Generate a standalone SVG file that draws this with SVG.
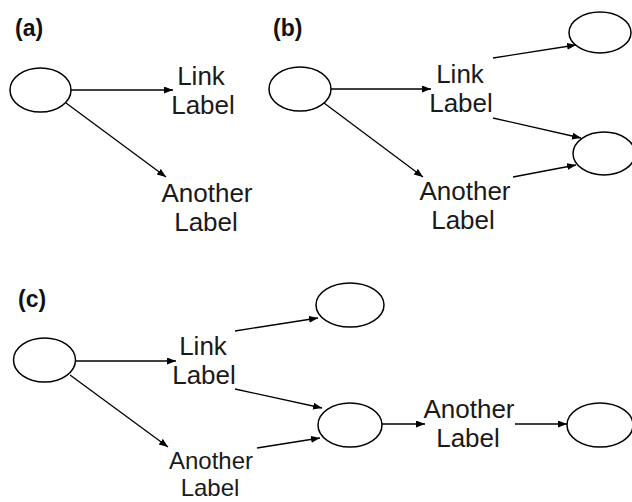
<svg xmlns="http://www.w3.org/2000/svg" width="632" height="502" viewBox="0 0 632 502">
  <defs>
    <marker id="arrow" markerUnits="userSpaceOnUse" markerWidth="10" markerHeight="8" refX="9" refY="3.5" orient="auto">
      <path d="M0,0 L9,3.5 L0,7 Z" fill="#000"/>
    </marker>
  </defs>
  <style>
    .node { fill: #fff; stroke: #000; stroke-width: 1.5; }
    .edge { fill: none; stroke: #000; stroke-width: 1.3; marker-end: url(#arrow); }
    .lbl { font-family: "Liberation Sans", Arial, sans-serif; font-size: 26px; fill: #1a1a1a; text-anchor: middle; }
    .lbl.low { font-size: 24px; }
    .tag { font-family: "Liberation Sans", Arial, sans-serif; font-size: 23px; font-weight: bold; fill: #111; }
  </style>
  <rect width="632" height="502" fill="#fff"/>

  <!-- panel tags -->
  <text class="tag" x="15" y="36">(a)</text>
  <text class="tag" x="273" y="36">(b)</text>
  <text class="tag" x="18" y="307">(c)</text>

  <!-- connectors -->
  <g id="connectors">
    <!-- (a) -->
    <line class="edge" x1="71" y1="90" x2="173" y2="90"/>
    <line class="edge" x1="66" y1="103" x2="166" y2="177"/>
    <!-- (b) -->
    <line class="edge" x1="331" y1="89" x2="431" y2="89"/>
    <line class="edge" x1="324" y1="103" x2="423" y2="177"/>
    <line class="edge" x1="493" y1="58" x2="576" y2="45"/>
    <line class="edge" x1="493" y1="118" x2="581" y2="138"/>
    <line class="edge" x1="513" y1="177" x2="576" y2="165"/>
    <!-- (c) -->
    <line class="edge" x1="76" y1="361" x2="176" y2="361"/>
    <line class="edge" x1="70" y1="375" x2="168" y2="447"/>
    <line class="edge" x1="235" y1="331" x2="318" y2="318"/>
    <line class="edge" x1="235" y1="389" x2="322" y2="408"/>
    <line class="edge" x1="257" y1="448" x2="320" y2="438"/>
    <line class="edge" x1="382" y1="424" x2="425" y2="424"/>
    <line class="edge" x1="515" y1="424" x2="567" y2="424"/>
  </g>

  <!-- link labels -->
  <g id="labels">
    <text class="lbl" x="201" y="85">Link</text>
    <text class="lbl" x="203" y="114">Label</text>
    <text class="lbl" x="207" y="202">Another</text>
    <text class="lbl" x="206" y="231">Label</text>

    <text class="lbl" x="460" y="83">Link</text>
    <text class="lbl" x="461" y="112">Label</text>
    <text class="lbl" x="465" y="200">Another</text>
    <text class="lbl" x="463" y="229">Label</text>

    <text class="lbl" x="203" y="355">Link</text>
    <text class="lbl" x="204" y="384">Label</text>
    <text class="lbl low" x="211" y="469">Another</text>
    <text class="lbl low" x="210" y="496">Label</text>

    <text class="lbl" x="469" y="418">Another</text>
    <text class="lbl" x="468" y="447">Label</text>
  </g>

  <!-- nodes -->
  <g id="node-a1"><ellipse class="node" cx="40.5" cy="90" rx="30.5" ry="22"/></g>
  <g id="node-b1"><ellipse class="node" cx="300" cy="89" rx="31" ry="22"/></g>
  <g id="node-b2"><ellipse class="node" cx="600" cy="32.5" rx="31" ry="20.5"/></g>
  <g id="node-b3"><ellipse class="node" cx="604" cy="153.5" rx="31" ry="21.5"/></g>
  <g id="node-c1"><ellipse class="node" cx="44.5" cy="360" rx="31" ry="22"/></g>
  <g id="node-c2"><ellipse class="node" cx="350" cy="305" rx="34" ry="22"/></g>
  <g id="node-c3"><ellipse class="node" cx="350" cy="425" rx="32" ry="22"/></g>
  <g id="node-c4"><ellipse class="node" cx="600" cy="425" rx="33" ry="22"/></g>
</svg>
